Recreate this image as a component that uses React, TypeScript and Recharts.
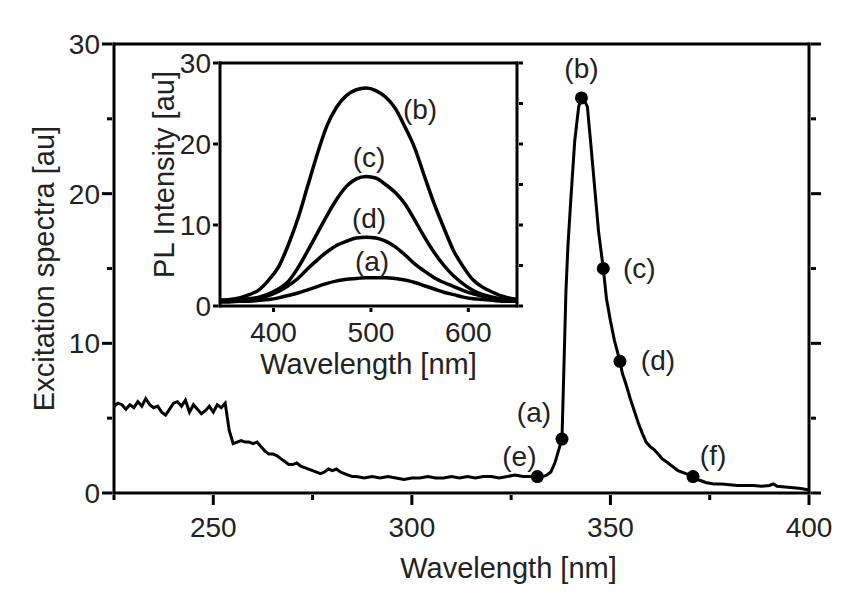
import React from 'react';
import { ComposedChart, LineChart, Line, Scatter, XAxis, YAxis, LabelList } from 'recharts';

const FONT = '"Liberation Sans", Arial, sans-serif';

// excitation spectrum, main panel
const EXC_WL = [
  225, 226, 227, 228, 229, 230, 231, 232, 233, 234,
  235, 236, 237, 238, 239, 240, 241, 242, 243, 244,
  245, 246, 247, 248, 249, 250, 251, 252, 253, 254,
  255, 256, 257, 258, 259, 260, 261, 262, 263, 264,
  265, 266, 267, 268, 269, 270, 271, 272, 273, 274,
  275, 276, 277, 278, 279, 280, 281, 282, 283, 284,
  285, 286, 288, 290, 292, 294, 296, 298, 300, 302,
  304, 306, 308, 310, 312, 314, 316, 318, 320, 322,
  324, 326, 328, 330, 331.6, 333, 334, 335, 336, 337,
  337.8, 338.3, 338.8, 339.3, 340, 341, 342, 342.7, 343.5, 344.2,
  345, 346, 347, 348.2, 349, 350, 351, 352.4, 353, 354,
  355, 356, 357, 358, 359, 360, 361, 362, 363, 364,
  365, 366, 367, 368, 369, 370, 370.8, 372, 373, 374,
  376, 378, 380, 382, 384, 386, 388, 390, 391, 392,
  394, 396, 398, 400,
];
const EXC_VAL = [
  5.8, 6.0, 5.9, 5.6, 5.9, 5.7, 6.1, 5.8, 6.3, 5.9,
  5.7, 5.8, 5.4, 5.2, 5.6, 6.0, 6.1, 5.8, 6.2, 5.4,
  5.9, 5.6, 5.3, 5.5, 5.8, 5.4, 5.9, 5.7, 6.0, 4.2,
  3.3, 3.4, 3.5, 3.4, 3.4, 3.3, 3.4, 3.1, 2.8, 2.6,
  2.6, 2.5, 2.3, 2.1, 1.9, 1.9, 2.0, 1.8, 1.7, 1.6,
  1.5, 1.4, 1.3, 1.4, 1.6, 1.5, 1.6, 1.4, 1.3, 1.2,
  1.1, 1.1, 1.0, 1.1, 1.0, 1.1, 1.0, 0.9, 1.0, 1.0,
  1.1, 1.0, 1.0, 1.1, 1.0, 1.1, 1.0, 1.1, 1.1, 1.0,
  1.1, 1.2, 1.1, 1.1, 1.1, 1.1, 1.2, 1.4, 2.0, 2.9,
  3.6, 8.5, 13.5, 16.5, 19.5, 23.5, 25.8, 26.4, 26.2, 25.8,
  23.5, 20.5, 17.5, 15.0, 13.0, 11.5, 10.2, 8.8, 8.0, 7.2,
  6.3, 5.5, 4.7, 4.0, 3.4, 3.1, 2.9, 2.6, 2.3, 2.1,
  1.9, 1.7, 1.5, 1.4, 1.3, 1.2, 1.1, 0.9, 0.8, 0.7,
  0.6, 0.6, 0.55, 0.5, 0.5, 0.5, 0.45, 0.5, 0.6, 0.45,
  0.4, 0.35, 0.3, 0.2,
];

// excitation wavelengths used for the PL spectra
const MARK_NAMES = ['(e)', '(a)', '(b)', '(c)', '(d)', '(f)'];
const MARK_WL = [331.6, 337.8, 342.7, 348.2, 352.4, 370.8];
const MARK_VAL = [1.1, 3.6, 26.4, 15.0, 8.8, 1.1];

const MAIN_X_TICKS = [225, 250, 275, 300, 325, 350, 375, 400];
const MAIN_X_LABELS = [250, 300, 350, 400];
const MAIN_Y_TICKS = [0, 5, 10, 15, 20, 25, 30];
const MAIN_Y_LABELS = [0, 10, 20, 30];

// PL spectra, inset
const PL_WL = [
  345, 355, 365, 375, 385, 395, 405, 415, 425, 435, 445, 455, 465, 475, 485, 495,
  505, 515, 525, 535, 545, 555, 565, 575, 585, 595, 605, 615, 625, 635, 645, 650,
];
const PL_A = [
  0.5, 0.5, 0.6, 0.6, 0.7, 0.8, 1.0, 1.3, 1.6, 2.0, 2.4, 2.8, 3.1, 3.3, 3.4, 3.5,
  3.5, 3.5, 3.4, 3.2, 2.9, 2.5, 2.1, 1.7, 1.4, 1.1, 0.9, 0.8, 0.7, 0.6, 0.6, 0.6,
];
const PL_B = [
  0.7, 0.8, 1.0, 1.4, 2.0, 3.2, 4.8, 7.5, 10.8, 14.8, 18.8, 22.3, 24.6, 26.0, 26.7, 26.9,
  26.6, 25.8, 24.4, 22.1, 19.5, 16.0, 12.6, 9.6, 6.8, 4.8, 3.2, 2.3, 1.7, 1.2, 0.9, 0.8,
];
const PL_C = [
  0.7, 0.7, 0.8, 0.9, 1.1, 1.5, 2.1, 3.0, 4.7, 6.8, 9.0, 11.2, 13.2, 14.8, 15.7, 16.0,
  15.8, 15.0, 14.0, 12.6, 10.6, 8.5, 6.6, 5.0, 3.7, 2.7, 1.9, 1.4, 1.1, 0.9, 0.8, 0.8,
];
const PL_D = [
  0.6, 0.6, 0.7, 0.8, 1.0, 1.3, 1.8, 2.5, 3.4, 4.6, 5.7, 6.7, 7.5, 8.0, 8.4, 8.5,
  8.4, 8.0, 7.3, 6.3, 5.2, 4.3, 3.5, 2.9, 2.4, 1.9, 1.5, 1.2, 1.0, 0.8, 0.7, 0.7,
];
const INSET_X_TICKS = [400, 500, 600];
const INSET_Y_TICKS = [0, 5, 10, 15, 20, 25, 30];
const INSET_Y_LABELS = [0, 10, 20, 30];
const INSET_LABEL_AT = 495;

// label placement relative to the point it belongs to (px)
const MARK_OFFSET: Record<string, [number, number]> = {
  '(e)': [-18, -21],
  '(a)': [-28, -27],
  '(b)': [0, -30],
  '(c)': [36, -1],
  '(d)': [38, -1],
  '(f)': [20, -22],
};
const INSET_OFFSET: Record<string, [number, number]> = {
  '(b)': [54, 21],
  '(c)': [3, -19],
  '(d)': [3, -19],
  '(a)': [6, -17],
};

const excRows = EXC_WL.map((w, i) => ({ w, v: EXC_VAL[i] }));
const markRows = MARK_WL.map((w, i) => ({ w, v: MARK_VAL[i], name: MARK_NAMES[i] }));
const plRows = PL_WL.map((w, i) => ({ w, a: PL_A[i], b: PL_B[i], c: PL_C[i], d: PL_D[i] }));
const labelIndex = PL_WL.indexOf(INSET_LABEL_AT);

const axisLine = { stroke: '#000', strokeWidth: 3, strokeLinecap: 'square' as const };

type Side = 'bottom' | 'top' | 'left' | 'right';

// tick line + label drawn by hand so that major and minor ticks differ in length
function frameTick(side: Side, majors: number[], majorLen: number, minorLen: number, showText: boolean, gap: number) {
  return (props: any) => {
    const { x, y, payload } = props;
    const v = payload.value;
    const isMajor = majors.includes(v);
    const len = isMajor ? majorLen : minorLen;
    const dx = side === 'left' ? -len : side === 'right' ? len : 0;
    const dy = side === 'bottom' ? len : side === 'top' ? -len : 0;
    let label = null;
    if (showText && isMajor) {
      label =
        side === 'bottom' ? (
          <text x={x} y={y + gap} textAnchor="middle" fontFamily={FONT} fontSize={28} fill="#222">
            {v}
          </text>
        ) : (
          <text x={x - gap} y={y + 10} textAnchor="end" fontFamily={FONT} fontSize={28} fill="#222">
            {v}
          </text>
        );
    }
    return (
      <g>
        {len > 0 && <line x1={x} y1={y} x2={x + dx} y2={y + dy} stroke="#000" strokeWidth={3} />}
        {label}
      </g>
    );
  };
}

const MarkShape = (p: any) => {
  const [dx, dy] = MARK_OFFSET[p.payload.name] || [0, 0];
  return (
    <g>
      <circle cx={p.cx} cy={p.cy} r={6.5} fill="#000" />
      <text x={p.cx + dx} y={p.cy + dy + 10} textAnchor="middle" fontFamily={FONT} fontSize={28} fill="#222">
        {p.payload.name}
      </text>
    </g>
  );
};

const insetLabel = (name: string) => (p: any) => {
  if (p.index !== labelIndex) return null;
  const [dx, dy] = INSET_OFFSET[name];
  return (
    <text x={p.x + dx} y={p.y + dy + 10} textAnchor="middle" fontFamily={FONT} fontSize={28} fill="#222">
      {name}
    </text>
  );
};

export default function App() {
  return (
    <div style={{ position: 'absolute', left: 0, top: 0, width: 863, height: 608, background: '#fff' }}>
      <ComposedChart width={863} height={608} margin={{ top: 24, right: 34, bottom: 85, left: 54 }}>
        <XAxis
          xAxisId="b"
          type="number"
          dataKey="w"
          domain={[225, 400]}
          ticks={MAIN_X_TICKS}
          interval={0}
          allowDataOverflow
          height={30}
          tickSize={0}
          tickLine={false}
          axisLine={axisLine}
          tick={frameTick('bottom', MAIN_X_LABELS, 10, 5, true, 42)}
          label={(p: any) => {
            const vb = p.viewBox;
            return (
              <text x={vb.x + vb.width / 2 + 47} y={vb.y + 85} textAnchor="middle" fontFamily={FONT} fontSize={29} fill="#222">
                Wavelength [nm]
              </text>
            );
          }}
        />
        <XAxis
          xAxisId="t"
          orientation="top"
          type="number"
          domain={[225, 400]}
          ticks={MAIN_X_TICKS}
          interval={0}
          allowDataOverflow
          height={20}
          tickSize={0}
          tickLine={false}
          axisLine={axisLine}
          tick={frameTick('top', MAIN_X_LABELS, 10, 5, false, 0)}
        />
        <YAxis
          yAxisId="l"
          dataKey="v"
          type="number"
          domain={[0, 30]}
          ticks={MAIN_Y_TICKS}
          interval={0}
          allowDataOverflow
          width={60}
          tickSize={0}
          tickLine={false}
          axisLine={axisLine}
          tick={frameTick('left', MAIN_Y_LABELS, 10, 5, true, 12)}
          label={(p: any) => {
            const vb = p.viewBox;
            const cx = vb.x;
            const cy = vb.y + vb.height / 2;
            return (
              <text x={cx} y={cy} transform={`rotate(-90, ${cx}, ${cy})`} textAnchor="middle" fontFamily={FONT} fontSize={29} fill="#222">
                Excitation spectra [au]
              </text>
            );
          }}
        />
        <YAxis
          yAxisId="r"
          orientation="right"
          type="number"
          domain={[0, 30]}
          ticks={MAIN_Y_TICKS}
          interval={0}
          allowDataOverflow
          width={20}
          tickSize={0}
          tickLine={false}
          axisLine={axisLine}
          tick={frameTick('right', MAIN_Y_LABELS, 10, 5, false, 0)}
        />
        <Line
          xAxisId="b"
          yAxisId="l"
          data={excRows}
          dataKey="v"
          type="linear"
          stroke="#000"
          strokeWidth={3}
          dot={false}
          isAnimationActive={false}
        />
        <Scatter
          xAxisId="b"
          yAxisId="l"
          data={markRows}
          dataKey="v"
          shape={MarkShape}
          isAnimationActive={false}
        />
      </ComposedChart>

      <div style={{ position: 'absolute', left: 140, top: 40 }}>
        <LineChart width={400} height={400} data={plRows} margin={{ top: 22, right: 22, bottom: 104, left: 30 }}>
          <XAxis
            xAxisId="b"
            type="number"
            dataKey="w"
            domain={[345, 650]}
            ticks={INSET_X_TICKS}
            interval={0}
            allowDataOverflow
            height={30}
            tickSize={0}
            tickLine={false}
            axisLine={axisLine}
            tick={frameTick('bottom', INSET_X_TICKS, 4, 4, true, 34)}
            label={(p: any) => {
              const vb = p.viewBox;
              return (
                <text x={vb.x + vb.width / 2} y={vb.y + 68} textAnchor="middle" fontFamily={FONT} fontSize={29} fill="#222">
                  Wavelength [nm]
                </text>
              );
            }}
          />
          <XAxis
            xAxisId="t"
            orientation="top"
            type="number"
            domain={[345, 650]}
            ticks={INSET_X_TICKS}
            interval={0}
            allowDataOverflow
            height={1}
            tickSize={0}
            tickLine={false}
            axisLine={axisLine}
            tick={frameTick('top', INSET_X_TICKS, 4, 4, false, 0)}
          />
          <YAxis
            yAxisId="l"
            type="number"
            domain={[0, 30]}
            ticks={INSET_Y_LABELS}
            interval={0}
            allowDataOverflow
            width={50}
            tickSize={0}
            tickLine={false}
            axisLine={axisLine}
            tick={frameTick('left', INSET_Y_LABELS, 5, 0, true, 7)}
            label={(p: any) => {
              const vb = p.viewBox;
              const cx = vb.x + 4;
              const cy = vb.y + vb.height / 2 - 10;
              return (
                <text x={cx} y={cy} transform={`rotate(-90, ${cx}, ${cy})`} textAnchor="middle" fontFamily={FONT} fontSize={29} fill="#222">
                  PL Intensity [au]
                </text>
              );
            }}
          />
          <YAxis
            yAxisId="r"
            orientation="right"
            type="number"
            domain={[0, 30]}
            ticks={INSET_Y_TICKS}
            interval={0}
            allowDataOverflow
            width={1}
            tickSize={0}
            tickLine={false}
            axisLine={axisLine}
            tick={frameTick('right', INSET_Y_TICKS, 4, 4, false, 0)}
          />
          {(['b', 'c', 'd', 'a'] as const).map((k) => (
            <Line
              key={k}
              xAxisId="b"
              yAxisId="l"
              dataKey={k}
              type="monotone"
              stroke="#000"
              strokeWidth={3.5}
              dot={false}
              isAnimationActive={false}
            >
              <LabelList dataKey={k} content={insetLabel(`(${k})`)} />
            </Line>
          ))}
        </LineChart>
      </div>
    </div>
  );
}
